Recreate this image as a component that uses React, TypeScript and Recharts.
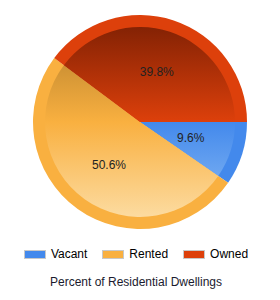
import { PieChart, Pie, Cell, Legend } from 'recharts';

const categories = ['Vacant', 'Rented', 'Owned'];
const shares = [9.6, 50.6, 39.8];
const ringColors = ['#4389ec', '#f9b040', '#dd400b'];
// top / middle / bottom colors of the inner shaded disc
const shadeTop = ['#2f66b8', '#b27e2c', '#842204'];
const shadeBottom = ['#8dbdf4', '#fcdba0', '#f07a4a'];

const data = categories.map((name, i) => ({ name, value: shares[i] }));

const RADIAN = Math.PI / 180;
const MARGIN = 5; // PieChart default margin, added to cx / cy
const CX = 140;
const CY = 122;
const OUTER = 107;
const INNER = 95;

const renderLabel = (props: any) => {
  const { cx, cy, midAngle, outerRadius, value } = props;
  const r = outerRadius * 0.56;
  const x = cx + r * Math.cos(-midAngle * RADIAN);
  const y = cy + r * Math.sin(-midAngle * RADIAN);
  return (
    <text x={x} y={y} fill="#222" fontSize={12} textAnchor="middle" dominantBaseline="central">
      {value.toFixed(1)}%
    </text>
  );
};

const renderLegend = () => (
  <div style={{ display: 'flex', justifyContent: 'center', gap: 15, paddingRight: 8 }}>
    {categories.map((name, i) => (
      <div key={name} style={{ display: 'flex', alignItems: 'center' }}>
        <span
          style={{
            display: 'inline-block',
            width: 20,
            height: 7,
            background: ringColors[i],
            border: '1px solid #c8c8c8',
            marginRight: 5,
          }}
        />
        <span style={{ fontSize: 12, color: '#000' }}>{name}</span>
      </div>
    ))}
  </div>
);

export default function App() {
  return (
    <div
      style={{
        position: 'absolute',
        left: 0,
        top: 0,
        width: 280,
        height: 300,
        background: '#fff',
        fontFamily: "Arial, 'Liberation Sans', sans-serif",
      }}
    >
      <PieChart width={280} height={300}>
        <defs>
          {categories.map((name, i) => (
            <linearGradient
              key={name}
              id={`shade-${i}`}
              gradientUnits="userSpaceOnUse"
              x1={0}
              y1={CY - INNER}
              x2={0}
              y2={CY + INNER}
            >
              <stop offset="0" stopColor={shadeTop[i]} />
              <stop offset="0.5" stopColor={ringColors[i]} />
              <stop offset="1" stopColor={shadeBottom[i]} />
            </linearGradient>
          ))}
        </defs>
        <Pie
          data={data}
          dataKey="value"
          cx={CX - MARGIN}
          cy={CY - MARGIN}
          outerRadius={OUTER}
          startAngle={0}
          endAngle={-360}
          stroke="none"
          isAnimationActive={false}
          legendType="none"
        >
          {data.map((d, i) => (
            <Cell key={d.name} fill={ringColors[i]} />
          ))}
        </Pie>
        <Pie
          data={data}
          dataKey="value"
          cx={CX - MARGIN}
          cy={CY - MARGIN}
          outerRadius={INNER}
          startAngle={0}
          endAngle={-360}
          stroke="none"
          label={renderLabel}
          labelLine={false}
          isAnimationActive={false}
        >
          {data.map((d, i) => (
            <Cell key={d.name} fill={`url(#shade-${i})`} />
          ))}
        </Pie>
        <Legend
          content={renderLegend}
          wrapperStyle={{ position: 'absolute', top: 247, left: 0, width: 280 }}
        />
      </PieChart>
      <div
        style={{
          position: 'absolute',
          top: 275,
          left: 0,
          width: 280,
          textAlign: 'center',
          fontSize: 12,
          color: '#1a1a2e',
          paddingRight: 8,
          boxSizing: 'border-box',
        }}
      >
        Percent of Residential Dwellings
      </div>
    </div>
  );
}
